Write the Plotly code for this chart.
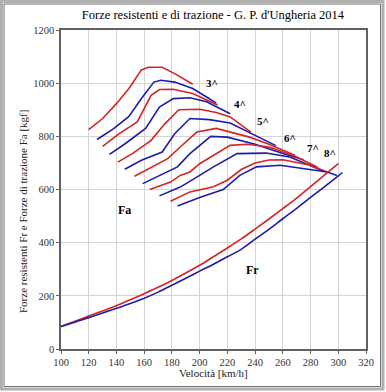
import plotly.graph_objects as go

# ---------------- data ----------------
gears = ["3^", "4^", "5^", "6^", "7^", "8^"]

# Traction force curves Fa (red / blue) for each gear
v3_red = [120, 130, 140, 149, 158, 163, 173, 183, 195]
f3_red = [825, 867, 923, 980, 1050, 1060, 1060, 1033, 996]
v3_blue = [126, 138, 149, 158, 167, 172, 182, 195, 205, 212]
f3_blue = [788, 829, 875, 942, 1004, 1011, 1004, 980, 948, 925]

v4_red = [130, 142, 155, 165, 171, 181, 195, 210, 213]
f4_red = [762, 810, 854, 954, 976, 977, 961, 923, 918]
v4_blue = [135, 147, 161, 171, 181, 193, 205, 215, 222]
f4_blue = [732, 775, 830, 910, 942, 945, 930, 905, 885]

v5_red = [141, 152, 165, 175, 185, 200, 212, 222, 237]
f5_red = [703, 737, 785, 848, 900, 902, 890, 873, 816]
v5_blue = [146, 158, 173, 182, 193, 207, 222, 240, 255]
f5_blue = [676, 710, 741, 810, 867, 863, 850, 805, 765]

v6_red = [153, 164, 177, 186, 198, 212, 222, 236, 250, 269]
f6_red = [650, 679, 716, 760, 816, 830, 816, 797, 770, 728]
v6_blue = [159, 171, 184, 193, 208, 220, 240, 260, 275]
f6_blue = [622, 653, 685, 735, 800, 797, 770, 735, 712]

v7_red = [164, 179, 186, 193, 200, 212, 222, 234, 250, 270, 285]
f7_red = [600, 628, 653, 666, 697, 735, 766, 770, 760, 722, 684]
v7_blue = [171, 186, 200, 210, 227, 241, 248, 265, 280, 290]
f7_blue = [576, 609, 653, 685, 735, 737, 737, 722, 690, 668]

v8_red = [179, 193, 210, 220, 230, 240, 250, 260, 280, 292]
f8_red = [556, 591, 610, 635, 675, 700, 711, 712, 691, 666]
v8_blue = [184, 193, 200, 217, 229, 241, 258, 292, 299]
f8_blue = [538, 557, 570, 600, 653, 685, 691, 666, 653]

# Resistance force curves Fr
v_fr_red = [100, 110, 120, 130, 140, 150, 160, 170, 180, 190, 200,
             210, 220, 230, 240, 250, 260, 270, 280, 290, 300]
f_fr_red = [85, 104, 124, 143, 163, 185, 208, 232, 258, 286, 315,
            347, 380, 414, 451, 489, 528, 568, 611, 654, 697]
v_fr_blue = [100, 110, 120, 130, 140, 150, 160, 170, 180, 190, 200,
              210, 220, 230, 240, 250, 260, 270, 280, 290, 300, 303]
f_fr_blue = [85, 101, 118, 135, 153, 171, 191, 214, 240, 266, 293,
             319, 347, 375, 413, 450, 490, 529, 570, 610, 651, 664]

x_ticks = [100, 120, 140, 160, 180, 200, 220, 240, 260, 280, 300, 320]
y_ticks = [0, 200, 400, 600, 800, 1000, 1200]

# ---------------- figure ----------------
RED = "#d42424"
BLUE = "#1c1caa"
SERIF = "Liberation Serif, Times New Roman, serif"

fig = go.Figure()

red_sets = [(v3_red, f3_red), (v4_red, f4_red), (v5_red, f5_red),
            (v6_red, f6_red), (v7_red, f7_red), (v8_red, f8_red)]
blue_sets = [(v3_blue, f3_blue), (v4_blue, f4_blue), (v5_blue, f5_blue),
             (v6_blue, f6_blue), (v7_blue, f7_blue), (v8_blue, f8_blue)]

for g, (rv, rf), (bv, bf) in zip(gears, red_sets, blue_sets):
    fig.add_trace(go.Scatter(x=rv, y=rf, mode="lines", name="Fa " + g,
                             line=dict(color=RED, width=1.6), showlegend=False))
    fig.add_trace(go.Scatter(x=bv, y=bf, mode="lines", name="Fa " + g,
                             line=dict(color=BLUE, width=1.6), showlegend=False))

fig.add_trace(go.Scatter(x=v_fr_red, y=f_fr_red, mode="lines", name="Fr",
                         line=dict(color=RED, width=1.6, shape="spline"), showlegend=False))
fig.add_trace(go.Scatter(x=v_fr_blue, y=f_fr_blue, mode="lines", name="Fr",
                         line=dict(color=BLUE, width=1.6, shape="spline"), showlegend=False))

label_pos = [(209, 1002), (229, 920), (245.5, 858), (265, 795), (282, 755), (294, 736)]
annotations = []
for g, (lx, ly) in zip(gears, label_pos):
    annotations.append(dict(x=lx, y=ly, text="<b>" + g + "</b>", showarrow=False,
                            font=dict(family=SERIF, size=11, color="black")))
annotations.append(dict(x=146, y=522, text="<b>Fa</b>", showarrow=False,
                        font=dict(family=SERIF, size=12, color="black")))
annotations.append(dict(x=238, y=296, text="<b>Fr</b>", showarrow=False,
                        font=dict(family=SERIF, size=12, color="black")))
# y axis title (positioned as in the reference)
annotations.append(dict(xref="paper", yref="paper", x=-46 / 305, y=(349 - 212) / 319,
                        text="Forze resistenti Fr e Forze di trazione Fa [kgf]",
                        textangle=-90, showarrow=False,
                        font=dict(family=SERIF, size=11, color="#222")))
# x axis title
annotations.append(dict(xref="paper", yref="paper", x=(213 - 61) / 305, y=(349 - 381) / 319,
                        text="Velocità [km/h]", showarrow=False,
                        font=dict(family=SERIF, size=11, color="#222")))

# outer frame of the picture
shapes = [
    dict(type="rect", xref="paper", yref="paper",
         x0=(1.5 - 61) / 305, x1=(383 - 61) / 305,
         y0=(349 - 389) / 319, y1=(349 - 1.5) / 319,
         line=dict(color="#b0b0b0", width=3), layer="below"),
    dict(type="rect", xref="paper", yref="paper",
         x0=(4 - 61) / 305, x1=(380.5 - 61) / 305,
         y0=(349 - 386.5) / 319, y1=(349 - 4) / 319,
         line=dict(color="#707070", width=1), layer="below"),
]

fig.update_layout(
    width=386, height=392,
    margin=dict(l=61, r=20, t=30, b=43),
    paper_bgcolor="white", plot_bgcolor="white",
    title=dict(text="Forze resistenti e di trazione - G. P. d'Ungheria 2014",
               x=(213 - 0) / 386, xanchor="center", y=1 - 15 / 392, yanchor="middle",
               font=dict(family=SERIF, size=12.5, color="black")),
    annotations=annotations,
    shapes=shapes,
    showlegend=False,
)
fig.update_xaxes(range=[100, 320], tickvals=x_ticks, ticktext=[str(t) for t in x_ticks],
                 showgrid=True, gridcolor="#d4d4d4", gridwidth=1,
                 showline=True, linecolor="#606060", linewidth=1.5, mirror=True,
                 ticks="outside", ticklen=3, tickcolor="#606060",
                 tickfont=dict(family=SERIF, size=10.5, color="#333"), zeroline=False)
fig.update_yaxes(range=[0, 1200], tickvals=y_ticks, ticktext=[str(t) for t in y_ticks],
                 showgrid=True, gridcolor="#d4d4d4", gridwidth=1,
                 showline=True, linecolor="#606060", linewidth=1.5, mirror=True,
                 ticks="outside", ticklen=3, tickcolor="#606060",
                 tickfont=dict(family=SERIF, size=10.5, color="#333"), zeroline=False)

fig.write_html("out.html",
               config={"displayModeBar": False},
               post_script="document.body.style.margin='0';document.body.style.overflow='hidden';")
